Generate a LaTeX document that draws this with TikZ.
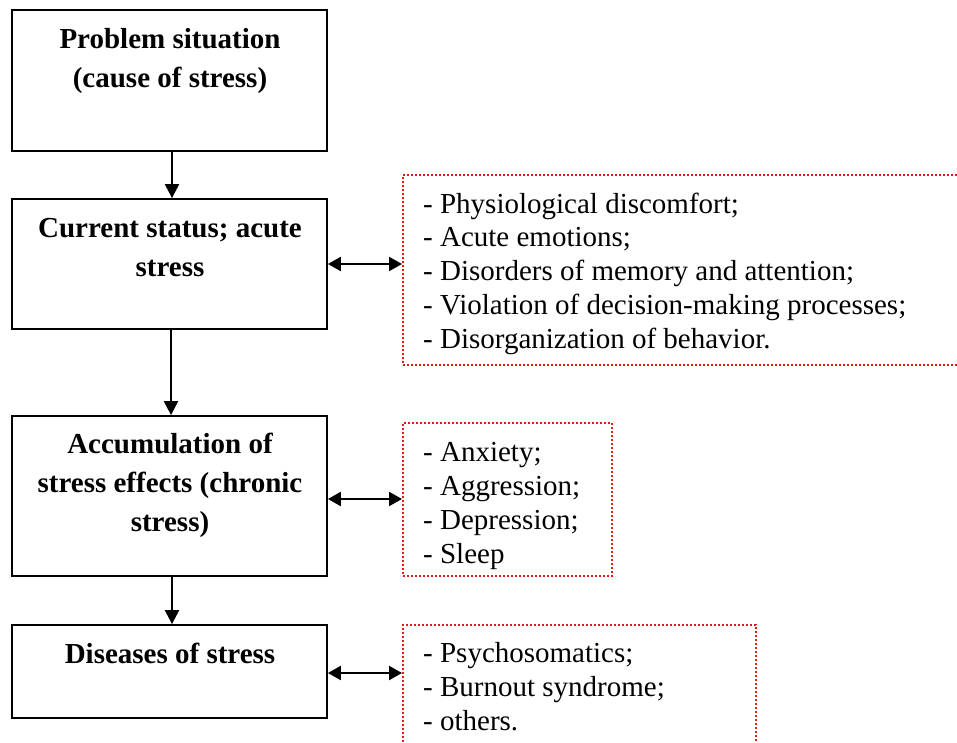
\documentclass[tikz,border=0pt]{standalone}
\usepackage{fontspec}
\setmainfont{Liberation Serif}
\usetikzlibrary{arrows.meta}
\definecolor{dotred}{RGB}{226,24,24}
\begin{document}
\begin{tikzpicture}[x=1pt,y=-1pt,
  stagebox/.style={draw=black,line width=1.8pt,minimum width=315pt,inner sep=0pt},
  listbox/.style={draw=dotred,line width=2pt,dash pattern=on 2pt off 2pt,inner sep=0pt},
  stagetext/.style={font=\fontsize{29}{39}\selectfont\bfseries,align=center,inner sep=0pt},
  listtext/.style={font=\fontsize{29}{33.7}\selectfont,align=left,inner sep=0pt},
  flow/.style={line width=2.2pt,-{Triangle[length=14pt,width=14pt]}},
  link/.style={line width=2.2pt,{Triangle[length=13pt,width=14pt]}-{Triangle[length=13pt,width=14pt]}}]
\useasboundingbox (0,0) rectangle (957,743);
\clip (0,0) rectangle (957,743);

% stages of the stress process
\node[stagebox,minimum height=141pt] (s1) at (169.5,80.5) {};
\node[stagebox,minimum height=130pt] (s2) at (169.5,264) {};
\node[stagebox,minimum height=160pt] (s3) at (169.5,496) {};
\node[stagebox,minimum height=93pt]  (s4) at (169.5,671.5) {};

% (anchor=base sits on the last line of each text)
\node[stagetext,anchor=base] (t1) at (170,88) {Problem situation\\(cause of stress)};
\node[stagetext,anchor=base] (t2) at (170,276) {Current status; acute\\stress};
\node[stagetext,anchor=base] (t3) at (170,531) {Accumulation of\\stress effects (chronic\\stress)};
\node[stagetext,anchor=base] (t4) at (170,663) {Diseases of stress};

% dotted lists of manifestations
\node[listbox,minimum width=562pt,minimum height=190pt] (l1) at (684,270) {};
\node[listbox,minimum width=209pt,minimum height=153pt] (l2) at (507.5,499.5) {};
\node[listbox,minimum width=353pt,minimum height=135pt] (l3) at (579.5,692.5) {};

\node[listtext,anchor=base west] (x1) at (423,348) {- Physiological discomfort;\\- Acute emotions;\\- Disorders of memory and attention;\\- Violation of decision-making processes;\\- Disorganization of behavior.};
\node[listtext,anchor=base west] (x2) at (423,563) {- Anxiety;\\- Aggression;\\- Depression;\\- Sleep};
\node[listtext,anchor=base west] (x3) at (423,730) {- Psychosomatics;\\- Burnout syndrome;\\- others.};

% connectors
\draw[flow] ([xshift=2.5pt]s1.south) -- ([xshift=2.5pt]s2.north);
\draw[flow] ([xshift=1.5pt]s2.south) -- ([xshift=1.5pt]s3.north);
\draw[flow] ([xshift=2.5pt]s3.south) -- ([xshift=2.5pt]s4.north);
\draw[link] (s2.east) -- (s2.east -| l1.west);
\draw[link] ([yshift=-3pt]s3.east) -- ([yshift=-3pt]s3.east -| l2.west);
\draw[link] ([yshift=-1.5pt]s4.east) -- ([yshift=-1.5pt]s4.east -| l3.west);
\end{tikzpicture}
\end{document}
